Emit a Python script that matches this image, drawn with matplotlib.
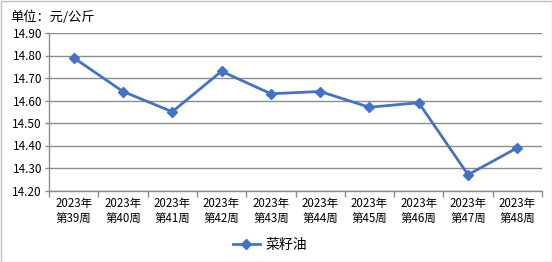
import matplotlib
matplotlib.use("Agg")
import matplotlib.pyplot as plt
from matplotlib.patches import Rectangle

plt.rcParams['font.family'] = ['Noto Sans CJK SC', 'DejaVu Sans']

categories = ["2023年\n第39周", "2023年\n第40周", "2023年\n第41周", "2023年\n第42周", "2023年\n第43周",
              "2023年\n第44周", "2023年\n第45周", "2023年\n第46周", "2023年\n第47周", "2023年\n第48周"]
values = [14.79, 14.64, 14.55, 14.73, 14.63, 14.64, 14.57, 14.59, 14.27, 14.39]
yticks = [14.20, 14.30, 14.40, 14.50, 14.60, 14.70, 14.80, 14.90]
series_name = "菜籽油"
unit_label = "单位：元/公斤"

color = "#4472C4"
grid_c = "#8C8C8C"

fig = plt.figure(figsize=(5.52, 2.62), dpi=100)
ax = fig.add_axes([49/552, 1-190.5/262, (542-49)/552, (190.5-33)/262])

x = list(range(len(values)))
line, = ax.plot(x, values, color=color, lw=2.0, marker="D", markersize=5.5, label=series_name)

ax.set_xlim(-0.5, len(values)-0.5)
ax.set_ylim(yticks[0], yticks[-1])
ax.set_yticks(yticks)
ax.set_yticklabels([f"{v:.2f}" for v in yticks], fontsize=8.5)
ax.set_xticks(x)
ax.set_xticklabels(categories, fontsize=8.3, linespacing=1.15)
ax.set_xticks([i-0.5 for i in range(len(values)+1)], minor=True)
ax.tick_params(axis='x', which='major', length=0, pad=5)
ax.tick_params(axis='x', which='minor', length=4, color=grid_c, width=1)
ax.tick_params(axis='y', length=3, color=grid_c, width=1, pad=2)
ax.grid(axis='y', color=grid_c, lw=1)
ax.set_axisbelow(True)
for s in ['top', 'right']:
    ax.spines[s].set_visible(False)
for s in ['left', 'bottom']:
    ax.spines[s].set_color(grid_c)
    ax.spines[s].set_linewidth(1)

fig.text(10/552, 1-17/262, unit_label, fontsize=9.5, va='center', ha='left')

fig.legend(handles=[line], loc='center', bbox_to_anchor=(270/552, 1-245/262), frameon=False,
           fontsize=10, handlelength=2.0, handletextpad=0.4)

fig.patches.append(Rectangle((0.5/552, 0.5/262), 1-1/552, 1-1/262, transform=fig.transFigure,
                             fill=False, edgecolor="#BFBFBF", lw=1))

fig.savefig("out.png", dpi=100)
